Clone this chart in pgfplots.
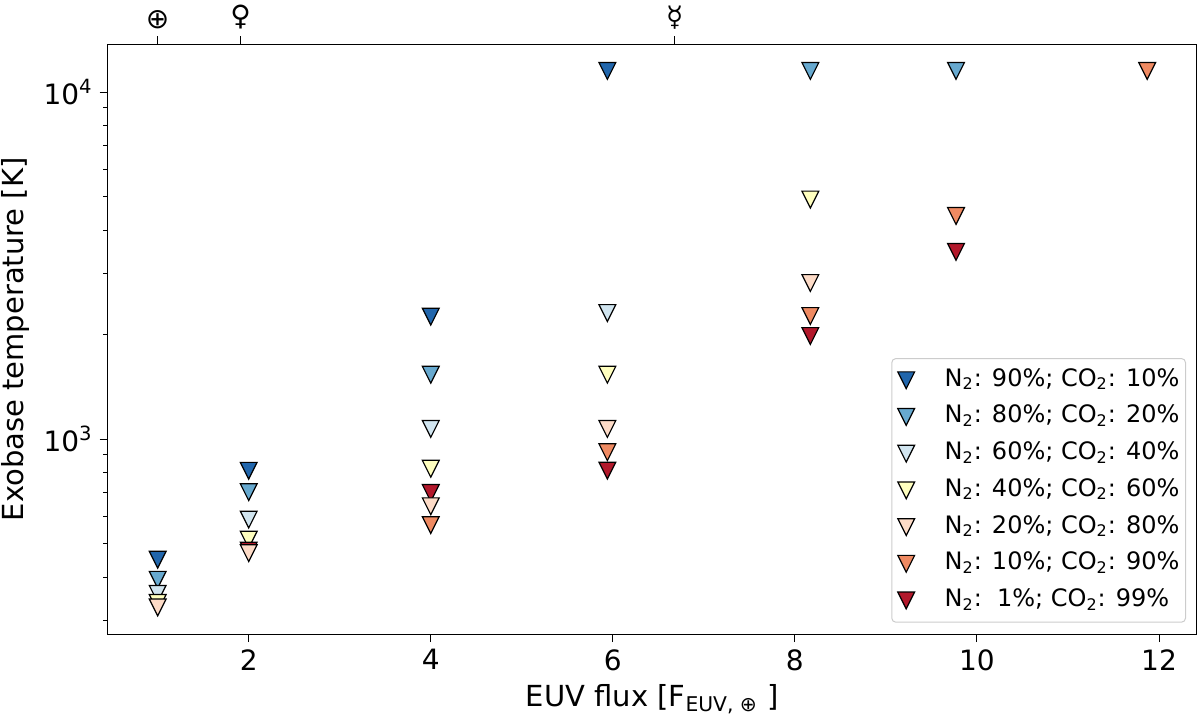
\documentclass[border=0pt]{standalone}
\usepackage{fontspec}
\setmainfont{DejaVu Sans}
\usepackage{pgfplots}
\pgfplotsset{compat=1.18}
\definecolor{c1}{HTML}{2166AC}
\definecolor{c2}{HTML}{67A9CF}
\definecolor{c3}{HTML}{D1E5F0}
\definecolor{c4}{HTML}{FFFFBF}
\definecolor{c5}{HTML}{FDDBC7}
\definecolor{c6}{HTML}{EF8A62}
\definecolor{c7}{HTML}{B2182B}
\pgfdeclareplotmark{tdown}{%
  \pgfpathmoveto{\pgfqpoint{0pt}{-\pgfplotmarksize}}%
  \pgfpathlineto{\pgfqpoint{-\pgfplotmarksize}{\pgfplotmarksize}}%
  \pgfpathlineto{\pgfqpoint{\pgfplotmarksize}{\pgfplotmarksize}}%
  \pgfpathclose
  \pgfusepathqfillstroke}
\begin{document}
\begin{tikzpicture}
\path[use as bounding box] (-53.85pt,-43.35pt) rectangle (546.15pt,317.15pt);
\begin{axis}[
  at={(0,0)}, anchor=south west,
  scale only axis, width=544.5pt, height=295pt,
  xmin=0.451, xmax=12.414,
  ymode=log, ymin=273.7, ymax=13728,
  xtick={2,4,6,8,10,12},
  ytick={1000,10000},
  yticklabels={10\textsuperscript{3},10\textsuperscript{4}},
  minor ytick={300,400,500,600,700,800,900,2000,3000,4000,5000,6000,7000,8000,9000},
  xtick pos=left, ytick pos=left,
  tick align=outside,
  major tick length=4pt, minor tick length=2.2pt,
  every tick/.style={black, line width=0.5pt},
  axis line style={line width=0.6pt},
  /pgf/number format/assume math mode=true,
  tick label style={font=\fontsize{14}{16}\selectfont},
  label style={font=\fontsize{14.5}{17}\selectfont},
  xlabel={EUV flux [F\textsubscript{EUV, ⊕} ]},
  ylabel={Exobase temperature [K]},
  legend style={at={(1,0)}, anchor=south east, xshift=-5.35pt, yshift=5.8pt,
    draw=black!20, fill=white, rounded corners=2pt, line width=0.5pt,
    font=\fontsize{12}{14}\selectfont,
    inner xsep=3pt, inner ysep=4.85pt, row sep=6.35pt, column sep=15pt,
    nodes={inner sep=0pt, text height=9pt, text depth=3pt}},
  legend cell align=left,
  legend image code/.code={\draw[mark repeat=2,mark phase=2,#1] plot coordinates {(0pt,0pt) (14pt,0pt) (22.3pt,0pt)};},
  every axis plot/.append style={only marks, mark=tdown, mark size=4.2pt, line width=0.6pt, draw=black},
]
\addplot[fill=c1] coordinates {(1,449) (2,810) (4,2252) (5.94,11500)};
\addlegendentry{N\textsubscript{2}: 90\%; CO\textsubscript{2}: 10\%}
\addplot[fill=c2] coordinates {(1,393) (2,703) (4,1532) (8.17,11500) (9.77,11500)};
\addlegendentry{N\textsubscript{2}: 80\%; CO\textsubscript{2}: 20\%}
\addplot[fill=c3] coordinates {(1,358) (2,586) (4,1069) (5.94,2307)};
\addlegendentry{N\textsubscript{2}: 60\%; CO\textsubscript{2}: 40\%}
\addplot[fill=c4] coordinates {(1,337) (2,513) (4,821) (5.94,1532) (8.17,4900)};
\addlegendentry{N\textsubscript{2}: 40\%; CO\textsubscript{2}: 60\%}
\addplot[fill=c7, forget plot] coordinates {(2,477) (4,699) (5.94,811) (8.17,1981) (9.77,3460)};
\addplot[fill=c5] coordinates {(1,327) (2,469) (4,640) (5.94,1069) (8.17,2816)};
\addlegendentry{N\textsubscript{2}: 20\%; CO\textsubscript{2}: 80\%}
\addplot[fill=c6] coordinates {(4,565) (5.94,916) (8.17,2262) (9.77,4393) (11.87,11500)};
\addlegendentry{N\textsubscript{2}: 10\%; CO\textsubscript{2}: 90\%}
\addlegendimage{only marks, mark=tdown, mark size=4.2pt, line width=0.6pt, draw=black, fill=c7}
\addlegendentry{N\textsubscript{2}:\ \ 1\%; CO\textsubscript{2}: 99\%}
\end{axis}
\begin{axis}[
  at={(0,0)}, anchor=south west,
  scale only axis, width=544.5pt, height=295pt,
  xmin=0.451, xmax=12.414, ymin=0, ymax=1,
  axis x line*=top, axis y line=none,
  xtick={1,1.91,6.68},
  xticklabels={⊕,♀,☿},
  tick align=outside, major tick length=4pt,
  every tick/.style={black, line width=0.5pt},
  axis line style={line width=0.6pt},
  tick label style={font=\fontsize{14}{16}\selectfont},
]
\end{axis}
\end{tikzpicture}
\end{document}
